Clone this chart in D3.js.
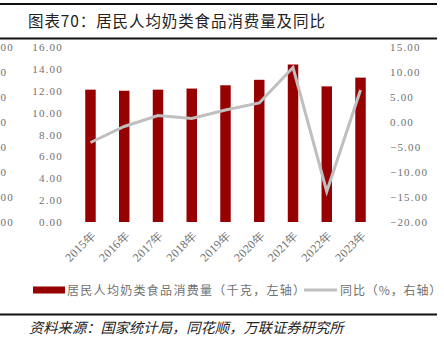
<!DOCTYPE html>
<html><head><meta charset="utf-8">
<script src="https://cdn.jsdelivr.net/npm/d3@7"></script>
<style>
html,body{margin:0;padding:0;background:#fff;}
svg{display:block;}
</style></head>
<body>
<svg id="c" width="444" height="344"></svg>
<script>
const years = ["2015年","2016年","2017年","2018年","2019年","2020年","2021年","2022年","2023年"];
const consumption = [12.1, 12.0, 12.1, 12.2, 12.5, 13.0, 14.4, 12.4, 13.2];
const yoy = [-4.1, -0.9, 1.3, 0.7, 2.4, 3.8, 10.9, -13.9, 6.4];
const leftTicks = [0, 2, 4, 6, 8, 10, 12, 14, 16];
const rightTicks = [-20, -15, -10, -5, 0, 5, 10, 15];
const ghostTicks = ["00","0","0","0","0","0","00","00"];
const title = "图表70：居民人均奶类食品消费量及同比";
const source = "资料来源：国家统计局，同花顺，万联证券研究所";
const legendBar = "居民人均奶类食品消费量（千克，左轴）";
const legendLine = "同比（%，右轴）";

(function(){
const svg = d3.select("#c");
const yTop = 47, yBottom = 222;
const x = d3.scaleBand().domain(years).range([73.6, 377.4]).paddingInner(0.69).paddingOuter(0.345);
const yL = d3.scaleLinear().domain([0, 16]).range([yBottom, yTop]);
const yR = d3.scaleLinear().domain([-20, 15]).range([yBottom, yTop]);
const numFont = "'Liberation Serif', serif";
const grey = "#707070";

// rules
svg.append("rect").attr("x",0).attr("y",3).attr("width",437).attr("height",2).attr("fill","#111");
svg.append("rect").attr("x",0).attr("y",37.5).attr("width",437).attr("height",2).attr("fill","#111");
svg.append("rect").attr("x",0).attr("y",313.5).attr("width",437).attr("height",2).attr("fill","#111");

svg.append("text").attr("x",28).attr("y",27).attr("font-family","'Noto Sans CJK SC', sans-serif")
  .attr("font-size",15.5).attr("letter-spacing",0.9).attr("fill","#222").text(title);

// visible fragments of the neighbouring chart's axis at the left edge
const yG = d3.scaleLinear().domain([0, ghostTicks.length-1]).range([yTop, yBottom]);
svg.append("g").selectAll("text").data(ghostTicks).join("text")
  .attr("x", 0.5).attr("y", (d,i)=>yG(i)).attr("dy","0.35em")
  .attr("font-family",numFont).attr("font-size",11).attr("letter-spacing",1.2).attr("fill",grey).text(d=>d);

// left axis
const la = svg.append("g").attr("transform","translate(63,0)")
  .call(d3.axisLeft(yL).tickValues(leftTicks).tickFormat(d3.format(".2f")).tickSize(0).tickPadding(0));
la.select(".domain").remove();
la.selectAll("text").attr("font-family",numFont).attr("font-size",11).attr("letter-spacing",1.2).attr("fill",grey);

// right axis
const ra = svg.append("g").attr("transform","translate(390,0)")
  .call(d3.axisRight(yR).tickValues(rightTicks).tickFormat(d3.format(".2f")).tickSize(0).tickPadding(0));
ra.select(".domain").remove();
ra.selectAll("text").attr("font-family",numFont).attr("font-size",11).attr("letter-spacing",1.2).attr("fill",grey)
  .text(d=>d3.format(".2f")(d).replace("-","−"));

// bars
svg.append("g").selectAll("rect").data(years).join("rect")
  .attr("x", d=>x(d)).attr("width", x.bandwidth())
  .attr("y", (d,i)=>yL(consumption[i])).attr("height",(d,i)=>yL(0)-yL(consumption[i]))
  .attr("fill","#960000");

// line
const line = d3.line().x((d,i)=>x(years[i])+x.bandwidth()/2).y(d=>yR(d));
svg.append("path").datum(yoy).attr("d",line).attr("fill","none")
  .attr("stroke","#bfbfbf").attr("stroke-width",3).attr("stroke-linejoin","miter");

// x labels
const xa = svg.append("g").attr("transform",`translate(0,${yBottom})`)
  .call(d3.axisBottom(x).tickSize(0).tickPadding(0));
xa.select(".domain").remove();
xa.selectAll("text").attr("font-family",numFont).attr("font-size",12).attr("letter-spacing",0.3).attr("fill",grey)
  .attr("text-anchor","end").attr("dy",0)
  .attr("transform","translate(6,14) rotate(-45)");

// legend
svg.append("rect").attr("x",33).attr("y",286.5).attr("width",32).attr("height",7).attr("fill","#960000");
svg.append("text").attr("x",67).attr("y",294.5).attr("font-family","'Noto Sans CJK SC', sans-serif")
  .attr("font-size",12).attr("letter-spacing",1.3).attr("fill",grey).text(legendBar);
svg.append("line").attr("x1",304).attr("x2",337).attr("y1",290).attr("y2",290)
  .attr("stroke","#bfbfbf").attr("stroke-width",3);
svg.append("text").attr("x",340).attr("y",294.5).attr("font-family","'Noto Sans CJK SC', sans-serif")
  .attr("font-size",12).attr("letter-spacing",0.9).attr("fill",grey).text(legendLine);

// source
svg.append("text").attr("x",29).attr("y",333).attr("font-family","'Noto Sans CJK SC', sans-serif")
  .attr("font-size",14.3).attr("font-style","italic").attr("fill","#222").text(source);
})();
</script>
</body></html>
